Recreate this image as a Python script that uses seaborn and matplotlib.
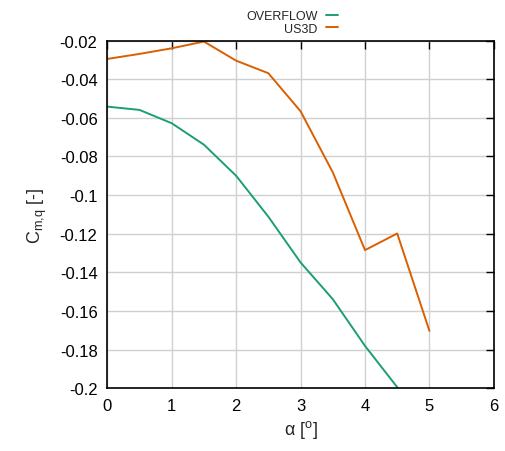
import numpy as np
import pandas as pd
import matplotlib
matplotlib.use("Agg")
import matplotlib.pyplot as plt
import seaborn as sns

alpha = [0, 0.5, 1, 1.5, 2, 2.5, 3, 3.5, 4, 4.5, 5]
overflow = [-0.0542, -0.0559, -0.0628, -0.0739, -0.0900, -0.1112, -0.1349, -0.1539, -0.1781, -0.1995]
us3d = [-0.0295, -0.0269, -0.0240, -0.0205, -0.0304, -0.0369, -0.0566, -0.0882, -0.1285, -0.1199, -0.1703]
series_names = ["OVERFLOW", "US3D"]
colors = ["#1b9e77", "#d95f02"]

df = pd.concat([
    pd.DataFrame({"alpha": alpha[:len(overflow)], "cmq": overflow, "code": series_names[0]}),
    pd.DataFrame({"alpha": alpha[:len(us3d)], "cmq": us3d, "code": series_names[1]}),
])

sns.set_style("white")
plt.rcParams['font.family'] = ['Liberation Sans', 'DejaVu Sans']
plt.rcParams['mathtext.fontset'] = 'custom'
plt.rcParams['mathtext.rm'] = 'Liberation Sans'
plt.rcParams['mathtext.it'] = 'Liberation Sans:italic'

fig = plt.figure(figsize=(5.06, 4.52), dpi=100)
ax = fig.add_axes([0.212, 0.139, 0.764, 0.769])

sns.lineplot(data=df, x="alpha", y="cmq", hue="code", palette=colors,
             hue_order=series_names, linewidth=1.4, ax=ax, sort=False)

ax.set_xlim(0, 6)
ax.set_ylim(-0.2, -0.02)
ax.set_xticks(np.arange(0, 7, 1))
ax.set_yticks(np.arange(-0.2, -0.019, 0.02))
ax.set_xticklabels([str(i) for i in range(7)])
ax.set_yticklabels(["-0.2", "-0.18", "-0.16", "-0.14", "-0.12", "-0.1", "-0.08", "-0.06", "-0.04", "-0.02"])
ax.grid(True, color="#d0d0d0", linewidth=1.0)
ax.tick_params(direction="in", length=6, width=1, top=True, right=True, labelsize=12, pad=7, colors="black")
for s in ax.spines.values():
    s.set_color("black")
    s.set_linewidth(1.2)
    s.set_visible(True)

ax.set_xlabel(r"α [$^{\rm o}$]", fontsize=13)
ax.set_ylabel(r"C$_{\rm m{,}q}$ [-]", fontsize=13, labelpad=8)

leg = ax.legend(loc="lower center", bbox_to_anchor=(0.478, 1.003), frameon=False,
                markerfirst=False, fontsize=9, handlelength=1.0, handletextpad=0.65,
                labelspacing=0.05, borderaxespad=0)

fig.savefig("out.png", dpi=100)
